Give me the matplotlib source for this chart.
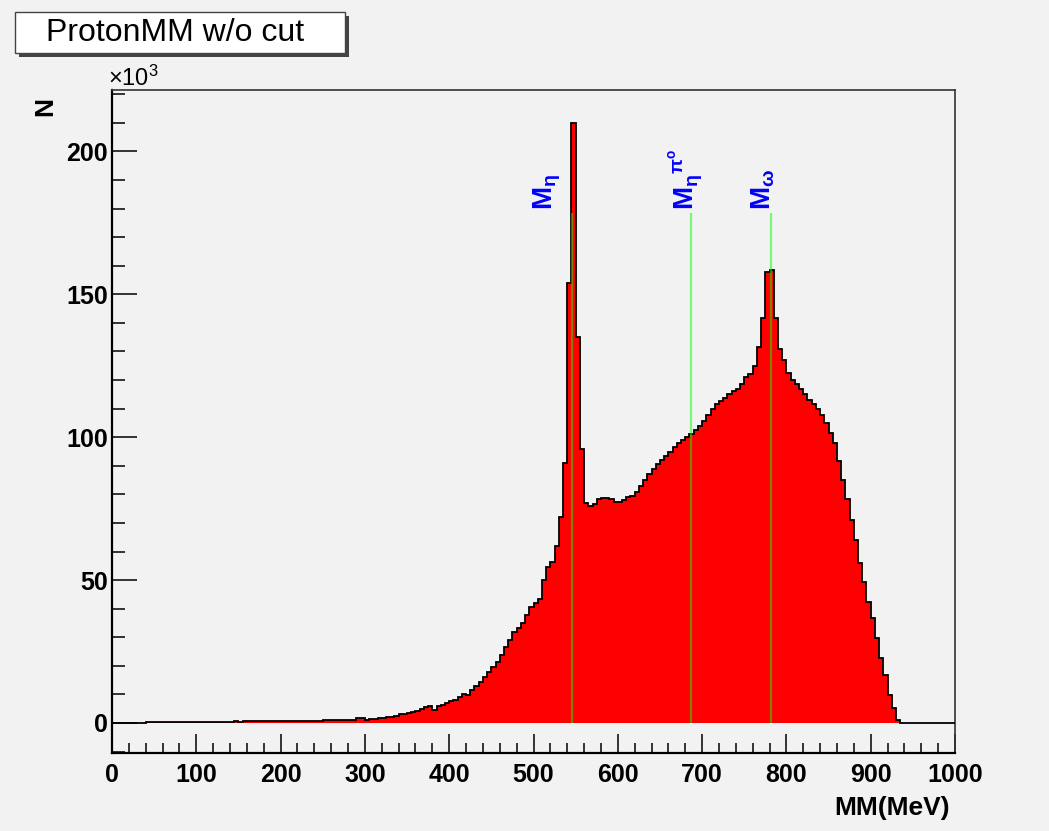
import numpy as np
import matplotlib
matplotlib.use("Agg")
import matplotlib.pyplot as plt
from matplotlib.patches import Rectangle

plt.rcParams["font.family"] = ["Liberation Sans", "DejaVu Sans"]
plt.rcParams["mathtext.fontset"] = "custom"
plt.rcParams["mathtext.rm"] = "Liberation Sans"
plt.rcParams["mathtext.bf"] = "Liberation Sans:bold"
plt.rcParams["mathtext.it"] = "Liberation Sans:italic"

# ── Data: proton missing mass, 5 MeV bins from 0 to 1000 MeV (counts in 10^3) ──
bin_width = 5
mm_min, mm_max = 0, 1000
counts_k = [
    0.05, 0.08, 0.10, 0.10, 0.12, 0.12, 0.15, 0.15, 0.18, 0.18,   # 0-45
    0.20, 0.20, 0.20, 0.22, 0.22, 0.25, 0.25, 0.25, 0.28, 0.28,   # 50-95
    0.30, 0.32, 0.35, 0.35, 0.35, 0.40, 0.40, 0.45, 0.50, 0.80,   # 100-145
    0.50, 0.55, 0.55, 0.60, 0.75, 0.60, 0.65, 0.80, 0.65, 0.70,   # 150-195
    0.70, 0.85, 0.70, 0.75, 0.80, 0.80, 0.80, 0.85, 0.85, 0.85,   # 200-245
    0.90, 0.90, 0.90, 0.95, 0.95, 1.00, 1.00, 1.10, 1.60, 1.70,   # 250-295
    1.20, 1.50, 1.50, 1.60, 1.80, 2.00, 2.20, 2.60, 3.00, 3.20,   # 300-345
    3.6, 4.0, 4.2, 4.9, 5.6, 5.8, 4.6, 5.9, 6.2, 7.1,             # 350-395
    7.8, 8.2, 9.2, 10.1, 9.8, 11.5, 12.9, 14.4, 16.2, 17.9,       # 400-445
    19.5, 21.4, 23.8, 26.6, 29.0, 31.9, 33.2, 35.0, 37.8, 40.5,   # 450-495
    42.0, 43.4, 50.0, 54.7, 56.5, 62.0, 72.0, 91.0, 154.0, 210.0, # 500-545
    135.0, 96.0, 77.0, 76.0, 76.5, 78.5, 78.7, 78.7, 78.5, 77.5,  # 550-595
    77.4, 78.0, 79.0, 79.5, 81.0, 83.0, 85.0, 87.0, 89.0, 90.5,   # 600-645
    92.0, 93.5, 95.0, 96.5, 98.0, 99.0, 100.0, 101.3, 102.5, 104.0,   # 650-695
    105.7, 107.7, 109.8, 111.5, 112.5, 113.6, 115.0, 116.0, 117.0, 118.5,  # 700-745
    121.0, 122.0, 124.8, 131.5, 141.6, 157.8, 158.6, 141.6, 131.0, 127.0,  # 750-795
    122.4, 120.0, 118.5, 116.8, 115.0, 113.0, 111.5, 109.8, 107.7, 105.0,  # 800-845
    101.4, 98.0, 91.7, 85.0, 78.5, 71.0, 64.0, 56.0, 49.4, 42.4,  # 850-895
    36.7, 29.7, 22.7, 16.8, 9.8, 5.2, 1.0, 0.1, 0.05, 0.05,       # 900-945
    0.05, 0.05, 0.05, 0.05, 0.05, 0.05, 0.05, 0.05, 0.05, 0.05,   # 950-995
]

# reference masses drawn as vertical lines
marker_mev = [546, 687, 782]
marker_top_k = 178.5
marker_labels = [r"$\mathbf{M_{\eta}}$", r"$\mathbf{M_{\eta}{}^{\pi^{o}}}$", r"$\mathbf{M_{\omega}}$"]
label_x_mev = [517, 681, 773]

x_major = np.arange(0, 1001, 100)
x_minor = np.arange(0, 1001, 20)
y_major = [0, 50, 100, 150, 200]
y_minor = np.arange(-10, 221, 10)

# ── Figure ────────────────────────────────────────────────────────────────────
W, H = 1049, 831
bg = "#f2f2f2"
fig = plt.figure(figsize=(W / 100, H / 100), dpi=100, facecolor=bg)
ax = fig.add_axes([112 / W, 1 - 753 / H, (955 - 112) / W, (753 - 90) / H])
ax.set_facecolor(bg)

edges = np.arange(mm_min, mm_max + bin_width, bin_width)
ax.stairs(counts_k, edges, fill=True, color="#ff0000", zorder=2)
ax.stairs(counts_k, edges, baseline=None, color="black", lw=1.3, zorder=3)

ax.vlines(marker_mev, 0, marker_top_k, colors="#00ff00", alpha=0.5, lw=1.6, zorder=4)
for xl, lab in zip(label_x_mev, marker_labels):
    ax.text(xl, marker_top_k + 1, lab, rotation=90, color="#0000ff",
            ha="center", va="bottom", fontsize=20)

ax.set_xlim(mm_min, mm_max)
ax.set_ylim(-10.5, 221.5)
ax.set_xticks(x_major)
ax.set_xticks(x_minor, minor=True)
ax.set_yticks(y_major)
ax.set_yticks(y_minor, minor=True)
ax.tick_params(which="both", direction="in", top=False, right=False, width=1.1)
ax.tick_params(axis="y", which="major", length=18, pad=3, labelsize=18)
ax.tick_params(axis="y", which="minor", length=9)
ax.tick_params(axis="x", which="major", length=14, pad=7, labelsize=18)
ax.tick_params(axis="x", which="minor", length=7)
for lbl in ax.get_xticklabels() + ax.get_yticklabels():
    lbl.set_fontweight("bold")
for side in ["left", "bottom"]:
    ax.spines[side].set_linewidth(1.6)
for side in ["top", "right"]:
    ax.spines[side].set_linewidth(1.2)
    ax.spines[side].set_color("#333333")

# axis titles and exponent in ROOT style
fig.text(950 / W, 1 - 815 / H, "MM(MeV)", ha="right", va="baseline",
         fontsize=19, fontweight="bold")
fig.text(45 / W, 1 - 106 / H, "N", rotation=90, ha="center", va="center",
         fontsize=19, fontweight="bold")
fig.text(108 / W, 1 - 86 / H, r"$\times10^{3}$", ha="left", va="baseline", fontsize=17)

# title box with shadow
fig.add_artist(Rectangle((19 / W, 1 - 57 / H), 330 / W, 41 / H,
                         transform=fig.transFigure, facecolor="#444444", edgecolor="none"))
fig.add_artist(Rectangle((15 / W, 1 - 53 / H), 330 / W, 41 / H,
                         transform=fig.transFigure, facecolor="white",
                         edgecolor="#444444", lw=1))
fig.text(175 / W, 1 - 33 / H, "ProtonMM w/o cut", ha="center", va="center", fontsize=23)

fig.savefig("out.png", dpi=100, facecolor=bg)
